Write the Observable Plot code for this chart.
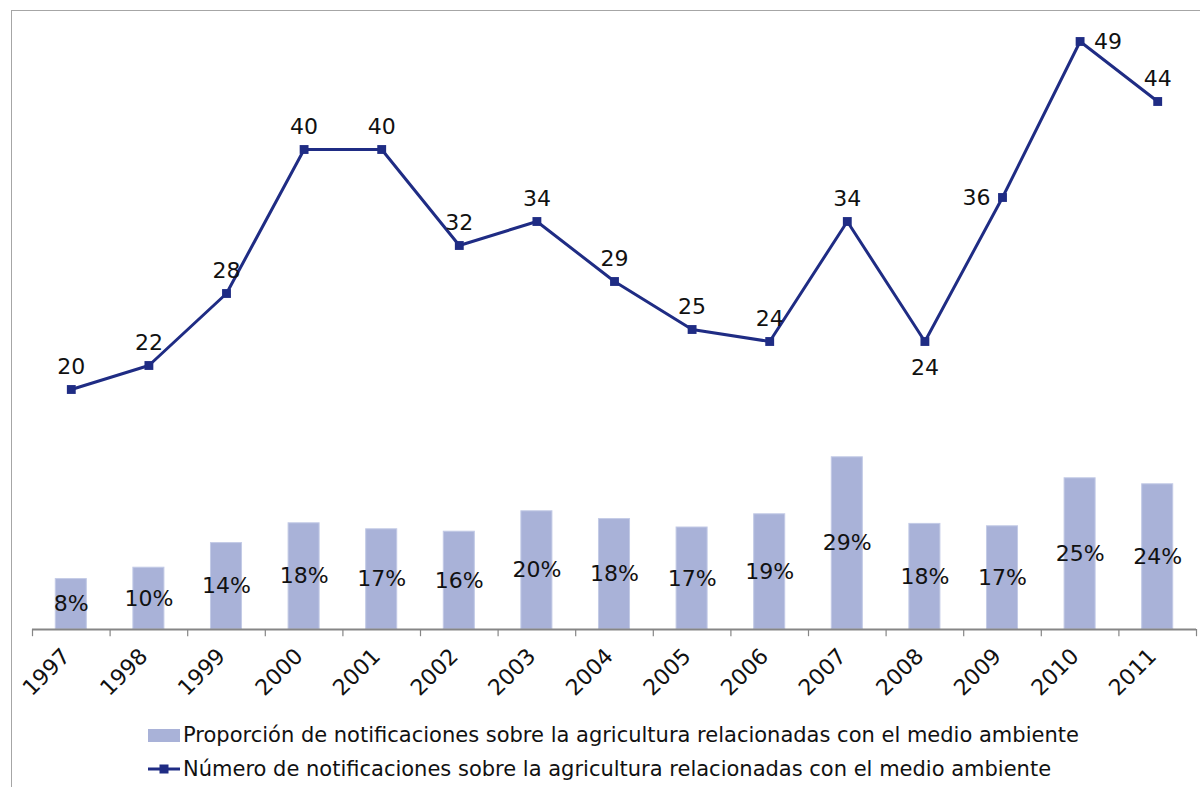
<!DOCTYPE html>
<html><head><meta charset="utf-8">
<script src="https://cdn.jsdelivr.net/npm/d3@7"></script>
<script src="https://cdn.jsdelivr.net/npm/@observablehq/plot@0.6"></script>
<style>
body{margin:0;background:#fff;overflow:hidden;font-family:"DejaVu Sans",Verdana,sans-serif;}
#wrap{position:relative;width:1200px;height:787px;overflow:hidden;}
#frame{position:absolute;left:11px;top:10px;width:1300px;height:900px;border:1px solid #a6a6a6;box-sizing:border-box;}
.layer{position:absolute;left:0;top:0;}
#legend{position:absolute;left:148px;top:718px;font-size:21px;color:#111;}
.row{display:flex;align-items:center;height:34px;white-space:nowrap;}
.sw{display:inline-block;width:32px;margin-right:3px;}
</style></head><body>
<div id="wrap"><div id="frame"></div><div id="bars" class="layer"></div><div id="lines" class="layer"></div><div id="legend"></div></div>
<script>
const years = ["1997","1998","1999","2000","2001","2002","2003","2004","2005","2006","2007","2008","2009","2010","2011"];
const counts = [20, 22, 28, 40, 40, 32, 34, 29, 25, 24, 34, 24, 36, 49, 44];
const shares = [8.4, 10.3, 14.4, 17.7, 16.7, 16.3, 19.7, 18.4, 17.0, 19.2, 28.7, 17.6, 17.2, 25.2, 24.2];
const barSeriesName = "Proporción de notificaciones sobre la agricultura relacionadas con el medio ambiente";
const lineSeriesName = "Número de notificaciones sobre la agricultura relacionadas con el medio ambiente";

const data = years.map((year, i) => ({year, count: counts[i], share: shares[i]}));

const barColor = "#a9b2d8";
const lineColor = "#1f2c84";
const axisColor = "#868686";
const W = 1200, H = 712, mL = 32, mR = 4, mT = 29, mB = 83;
const step = (W - mL - mR) / years.length;
const xBase = {domain: years, paddingInner: 0.6, paddingOuter: 0.3, round: false};
const style = {fontFamily: "DejaVu Sans, Verdana, sans-serif", fontSize: "22px", color: "#111", background: "transparent", overflow: "visible"};

const bars = Plot.plot({
  width: W, height: H, marginLeft: mL, marginRight: mR, marginTop: mT, marginBottom: mB,
  style,
  x: {...xBase, label: null},
  y: {domain: [0, 100], axis: null},
  marks: [
    Plot.barY(data, {x: "year", y: "share", fill: barColor, stroke: "#c3cae6", strokeWidth: 1}),
    Plot.text(data, Plot.stackY({x: "year", y: "share", text: d => Math.round(d.share) + "%", fill: "#111", fontSize: 22})),
    Plot.ruleY([0], {stroke: axisColor, strokeWidth: 2}),
    Plot.ruleX(data, {x: "year", dx: -step / 2, y1: 0, y2: -1.2, stroke: axisColor, strokeWidth: 1.2}),
    Plot.ruleX(data.slice(-1), {x: "year", dx: step / 2, y1: 0, y2: -1.2, stroke: axisColor, strokeWidth: 1.2}),
    Plot.axisX({tickRotate: -45, tickSize: 0, tickPadding: 23, dx: -5, fontSize: 22, fill: "#111", label: null})
  ]
});
document.getElementById("bars").append(bars);

const above = data.filter(d => !["2008", "2009", "2010"].includes(d.year));
const lines = Plot.plot({
  width: W, height: H, marginLeft: mL, marginRight: mR, marginTop: mT, marginBottom: mB,
  style,
  x: {...xBase, axis: null},
  y: {domain: [0, 50], axis: null},
  marks: [
    Plot.line(data, {x: "year", y: "count", stroke: lineColor, strokeWidth: 3}),
    Plot.dot(data, {x: "year", y: "count", symbol: "square", r: 5, fill: lineColor}),
    Plot.text(above, {x: "year", y: "count", text: "count", dy: -23, fill: "#111", fontSize: 22}),
    Plot.text(data.filter(d => d.year === "2010"), {x: "year", y: "count", text: "count", dx: 14, textAnchor: "start", fill: "#111", fontSize: 22}),
    Plot.text(data.filter(d => d.year === "2009"), {x: "year", y: "count", text: "count", dx: -12, textAnchor: "end", fill: "#111", fontSize: 22}),
    Plot.text(data.filter(d => d.year === "2008"), {x: "year", y: "count", text: "count", dy: 26, fill: "#111", fontSize: 22})
  ]
});
lines.style.pointerEvents = "none";
document.getElementById("lines").append(lines);

const legend = document.getElementById("legend");
legend.innerHTML = `
  <div class="row"><span class="sw" style="height:13px;background:${barColor}"></span><span></span></div>
  <div class="row"><svg class="sw" width="32" height="14" viewBox="0 0 32 14"><line x1="0" y1="7" x2="32" y2="7" stroke="${lineColor}" stroke-width="3"/><rect x="11.5" y="2.5" width="9" height="9" fill="${lineColor}"/></svg><span></span></div>`;
const spans = legend.querySelectorAll(".row > span:last-child");
spans[0].textContent = barSeriesName;
spans[1].textContent = lineSeriesName;
</script>
</body></html>
